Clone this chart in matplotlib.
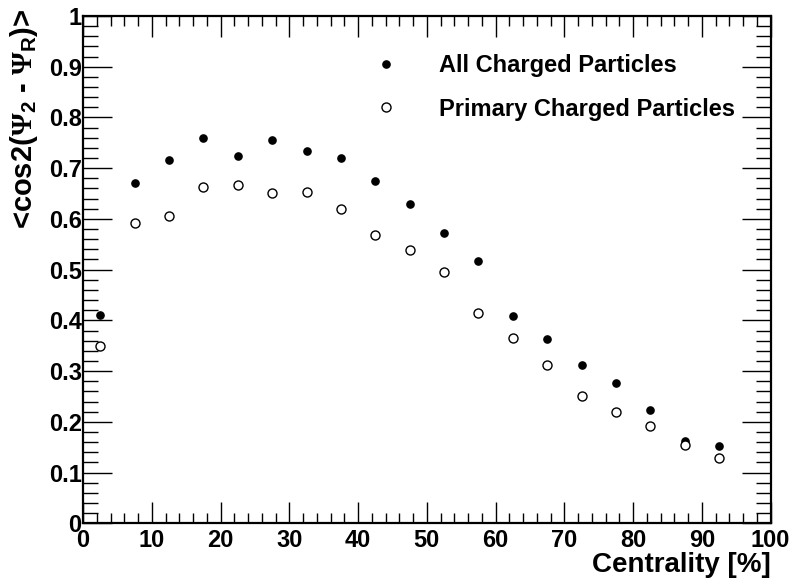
import matplotlib
matplotlib.use('Agg')
import matplotlib.pyplot as plt
from matplotlib.ticker import MultipleLocator

plt.rcParams['font.family'] = ['Liberation Sans', 'DejaVu Sans']
plt.rcParams['font.weight'] = 'bold'
# serif Psi (like ROOT's #Psi), bold sans subscripts
plt.rcParams['mathtext.fontset'] = 'custom'
plt.rcParams['mathtext.rm'] = 'Liberation Serif'
plt.rcParams['mathtext.sf'] = 'Liberation Sans:bold'

# centrality bin centres [%]
centrality = [2.5, 7.5, 12.5, 17.5, 22.5, 27.5, 32.5, 37.5, 42.5, 47.5,
              52.5, 57.5, 62.5, 67.5, 72.5, 77.5, 82.5, 87.5, 92.5]
all_charged = [0.411, 0.670, 0.716, 0.760, 0.725, 0.755, 0.733, 0.721, 0.674, 0.629,
               0.572, 0.518, 0.409, 0.363, 0.313, 0.277, 0.224, 0.163, 0.152]
primary_charged = [0.349, 0.591, 0.606, 0.662, 0.667, 0.651, 0.653, 0.620, 0.568, 0.539,
                   0.496, 0.415, 0.366, 0.313, 0.251, 0.220, 0.191, 0.154, 0.129]

fig = plt.figure(figsize=(7.96, 5.82), dpi=100)
ax = fig.add_axes([0.1043, 0.1009, 0.8639, 0.8716])

ax.plot(centrality, all_charged, 'o', color='black', markersize=5.2,
        label='All Charged Particles')
ax.plot(centrality, primary_charged, 'o', markerfacecolor='white',
        markeredgecolor='black', markeredgewidth=1.0, markersize=6.5,
        label='Primary Charged Particles')

ax.set_xlim(0, 100)
ax.set_ylim(0, 1)

ax.xaxis.set_major_locator(MultipleLocator(10))
ax.xaxis.set_minor_locator(MultipleLocator(2))
ax.yaxis.set_major_locator(MultipleLocator(0.1))
ax.yaxis.set_minor_locator(MultipleLocator(0.02))
ax.yaxis.set_major_formatter(lambda v, p: '0' if abs(v) < 1e-9 else ('1' if abs(v - 1) < 1e-9 else f'{v:.1f}'))

ax.tick_params(axis='both', which='both', direction='in', top=True, right=True,
               width=1.0, labelsize=17)
ax.tick_params(axis='x', which='major', length=15, pad=4)
ax.tick_params(axis='x', which='minor', length=7)
ax.tick_params(axis='y', which='major', length=21, pad=1)
ax.tick_params(axis='y', which='minor', length=11)
for s in ax.spines.values():
    s.set_linewidth(1.6)

ax.set_xlabel('Centrality [%]', fontsize=20, fontweight='bold', ha='right', va='top')
ax.xaxis.set_label_coords(1.0, -0.056)
ax.set_ylabel(r'<cos2($\Psi_{\mathsf{2}}$ - $\Psi_{\mathsf{R}}$)>', fontsize=21,
              fontweight='bold', ha='right')
ax.yaxis.set_label_coords(-0.063, 1.014)

ax.legend(loc='upper left', bbox_to_anchor=(0.423, 0.925), frameon=False,
          fontsize=17, handlelength=1.0, handletextpad=1.76, labelspacing=0.87,
          borderpad=0, borderaxespad=0)

plt.savefig('out.png', dpi=100)
plt.close()
